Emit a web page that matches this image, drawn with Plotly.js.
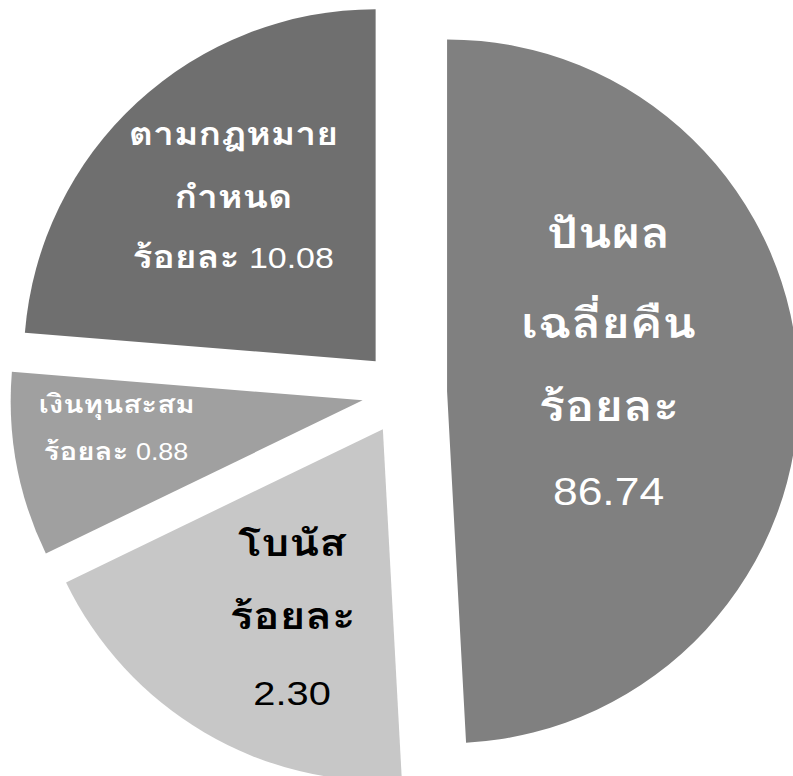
<!DOCTYPE html>
<html>
<head>
<meta charset="utf-8">
<script src="https://cdn.plot.ly/plotly-3.0.1.min.js"></script>
<style>
html,body{margin:0;padding:0;overflow:hidden;background:#fff;width:793px;height:776px;}
#chart{position:absolute;left:9.5px;top:-2.3px;width:789px;height:789px;}
/* the reference lettering is drawn a little wider than normal */
#chart text.annotation-text{transform-box:fill-box;transform-origin:center;transform:scaleX(1.17);}
</style>
</head>
<body>
<div id="chart"></div>
<script>
// ---- data ----
const categories = ["ปันผลเฉลี่ยคืน", "โบนัส", "เงินทุนสะสม", "ตามกฎหมายกำหนด"];
// slice shares as drawn (angles measured in the picture)
const sliceShares = [49.14, 18.69, 8.46, 23.71];
// percentages printed in the labels
const percentLabels = ["86.74", "2.30", "0.88", "10.08"];
// label line breaks of the category names
const categoryLines = [["ปันผล", "เฉลี่ยคืน"], ["โบนัส"], ["เงินทุนสะสม"], ["ตามกฎหมาย", "กำหนด"]];
const percentWord = "ร้อยละ";

// ---- styles ----
const sliceColors = ["#808080", "#c7c7c7", "#a0a0a0", "#6f6f6f"];
const textColors = ["#ffffff", "#000000", "#ffffff", "#ffffff"];
const FONT = "'Liberation Sans', Loma, 'Noto Sans Thai Looped', Arial, sans-serif";
const THAI_SCALE = 1.1;

const W = 789, H = 789, L = 9.5, T = -2.3;
function px(x, y) { return {x: (x - L) / W, y: 1 - (y - T) / H}; }

// label layout per slice: center x, line center ys, font size, whether the % word joins the number line
const labelLayout = [
  {x: 608, ys: [233, 321, 406, 492], size: 38, joinNumber: false},
  {x: 291.5, ys: [543, 616, 693], size: 34, joinNumber: false},
  {x: 116, ys: [404.5, 450.5], size: 23, joinNumber: true},
  {x: 232.5, ys: [134, 197, 256.5], size: 29, joinNumber: true}
];

const annotations = [];
categories.forEach((c, i) => {
  const fs = labelLayout[i].size;
  const thai = s => '<span style="font-size:' + (fs * THAI_SCALE).toFixed(1) + 'px"><b>' + s + '</b></span>';
  const lines = categoryLines[i].map(thai);
  if (labelLayout[i].joinNumber) {
    lines.push(thai(percentWord) + " " + percentLabels[i]);
  } else {
    lines.push(thai(percentWord));
    lines.push(percentLabels[i]);
  }
  lines.forEach((t, k) => {
    const p = px(labelLayout[i].x, labelLayout[i].ys[k]);
    annotations.push({
      xref: "paper", yref: "paper", x: p.x, y: p.y,
      xanchor: "center", yanchor: "middle", showarrow: false,
      text: t,
      font: {family: FONT, size: fs, color: textColors[i]}
    });
  });
});

const trace = {
  type: "pie",
  labels: categories,
  values: sliceShares,
  sort: false,
  direction: "clockwise",
  rotation: 0,
  pull: [0.121, 0.121, 0.121, 0.121],
  marker: {colors: sliceColors, line: {width: 0}},
  textinfo: "none",
  hoverinfo: "skip",
  showlegend: false
};

const layout = {
  width: W, height: H,
  margin: {l: 0, r: 0, t: 0, b: 0, pad: 0},
  paper_bgcolor: "rgba(0,0,0,0)",
  plot_bgcolor: "rgba(0,0,0,0)",
  showlegend: false,
  annotations: annotations
};

Plotly.newPlot("chart", [trace], layout, {staticPlot: true, displayModeBar: false});
</script>
</body>
</html>
